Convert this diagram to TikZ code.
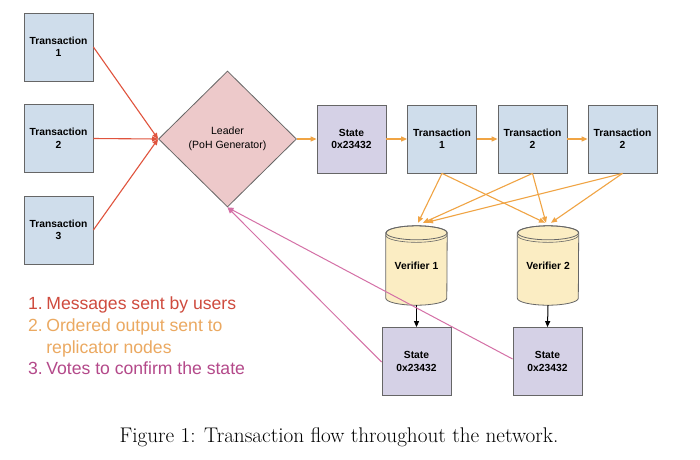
\documentclass[tikz,border=0pt]{standalone}
\usepackage{fontspec}
\newfontfamily\lsans{Liberation Sans}
\usetikzlibrary{shapes.geometric,arrows.meta}
\definecolor{txfill}{HTML}{CFDDEB}
\definecolor{stfill}{HTML}{D5D1E6}
\definecolor{ldfill}{HTML}{EDC9CA}
\definecolor{cyfill}{HTML}{FBEDC3}
\definecolor{bordr}{HTML}{666666}
\definecolor{redc}{HTML}{E0533D}
\definecolor{orc}{HTML}{F0A444}
\definecolor{pinkc}{HTML}{D470A6}
\definecolor{legred}{HTML}{CF4B3E}
\definecolor{legor}{HTML}{EBA961}
\definecolor{legpk}{HTML}{B4498A}
\newcommand\mycyl[1]{%
  \draw[bordr, line width=0.8pt, fill=cyfill] ([yshift=-7pt]#1.north west) -- ([yshift=7pt]#1.south west)
    arc[start angle=180, end angle=360, x radius=30.5pt, y radius=7pt]
    -- ([yshift=-7pt]#1.north east)
    arc[start angle=0, end angle=180, x radius=30.5pt, y radius=7pt] -- cycle;
  \draw[bordr, line width=0.8pt] ([yshift=-7pt]#1.north) ellipse[x radius=30.5pt, y radius=7pt];
  \draw[bordr, line width=0.6pt] ([yshift=-9.5pt]#1.north west)
    arc[start angle=180, end angle=360, x radius=30.5pt, y radius=7pt];
}
\begin{document}
\begin{tikzpicture}[x=1pt,y=-1pt,
  box/.style={draw=bordr, line width=0.8pt, minimum width=69pt, minimum height=68pt,
    inner sep=0pt, align=center, font=\lsans\bfseries\fontsize{10.3}{12.5}\selectfont},
  tx/.style={box, fill=txfill},
  st/.style={box, fill=stfill},
  cyl/.style={minimum width=61pt, minimum height=79pt, inner sep=0pt},
  arr/.style={-{Triangle[length=6pt,width=5pt]}, line width=1.1pt}]
\useasboundingbox (0,0) rectangle (700,459);
\fill[white] (0,0) rectangle (700,459);

\node[tx] (t1) at (58.5,47) {Transaction\\1};
\node[tx] (t2) at (58.5,138.5) {Transaction\\2};
\node[tx] (t3) at (58.5,230) {Transaction\\3};
\node[diamond, draw=bordr, line width=0.8pt, fill=ldfill, minimum width=138pt, minimum height=136pt,
  inner sep=0pt, align=center, font=\lsans\fontsize{10.5}{13.5}\selectfont] (ld) at (227.5,139)
  {Leader\\(PoH Generator)};
\node[st] (s0) at (351.5,139) {State\\0x23432};
\node[tx] (a1) at (442,139) {Transaction\\1};
\node[tx] (a2) at (532.5,139) {Transaction\\2};
\node[tx] (a3) at (622.5,139) {Transaction\\2};
\node[st] (b1) at (416.5,361.5) {State\\0x23432};
\node[st] (b2) at (547.5,361.5) {State\\0x23432};

\node[cyl] (v1) at (416.5,265.5) {};
\node[cyl] (v2) at (548,265.5) {};
\mycyl{v1}
\mycyl{v2}
\node[font=\lsans\bfseries\fontsize{10.3}{12.5}\selectfont] (v1t) at (v1.center) {Verifier 1};
\node[font=\lsans\bfseries\fontsize{10.3}{12.5}\selectfont] (v2t) at (v2.center) {Verifier 2};

% red
\draw[arr, redc] (t1.east) -- (ld.west);
\draw[arr, redc] (t2.east) -- (ld.west);
\draw[arr, redc] (t3.east) -- (ld.west);
% orange
\draw[arr, orc] (ld.east) -- (s0.west);
\draw[arr, orc] (s0.east) -- (a1.west);
\draw[arr, orc] (a1.east) -- (a2.west);
\draw[arr, orc] (a2.east) -- (a3.west);
\draw[arr, orc] (a1.south) -- ([xshift=1.5pt,yshift=3pt]v1.north);
\draw[arr, orc] (a1.south) -- ([xshift=-3pt,yshift=3pt]v2.north);
\draw[arr, orc] (a2.south) -- ([xshift=6.5pt,yshift=3pt]v1.north);
\draw[arr, orc] (a2.south) -- ([xshift=-2pt,yshift=3pt]v2.north);
\draw[arr, orc] (a3.south) -- ([xshift=10.5pt,yshift=3.5pt]v1.north);
\draw[arr, orc] (a3.south) -- ([xshift=3pt,yshift=3pt]v2.north);
% black
\draw[arr, black, line width=1pt] (v1.south) -- (b1.north);
\draw[arr, black, line width=1pt] (v2.south) -- (b2.north);
% pink
\draw[arr, pinkc, line width=1pt] ([yshift=-0.5pt]b1.west) -- (ld.south);
\draw[arr, pinkc, line width=1pt] ([yshift=2.5pt]b2.west) -- (ld.south);

\node[anchor=west, inner sep=0pt, font=\lsans\fontsize{17.6}{21.7}\selectfont] (leg) at (28,338)
 {\begin{tabular}{@{}l@{\hspace{3.5pt}}l@{}}
  \color{legred}1. & \color{legred}Messages sent by users\\
  \color{legor}2. & \color{legor}Ordered output sent to\\
   & \color{legor}replicator nodes\\
  \color{legpk}3. & \color{legpk}Votes to confirm the state
 \end{tabular}};

\node[font=\fontsize{21.2}{24}\selectfont] (cap) at (339,437) {Figure 1: Transaction flow throughout the network.};
\end{tikzpicture}
\end{document}
